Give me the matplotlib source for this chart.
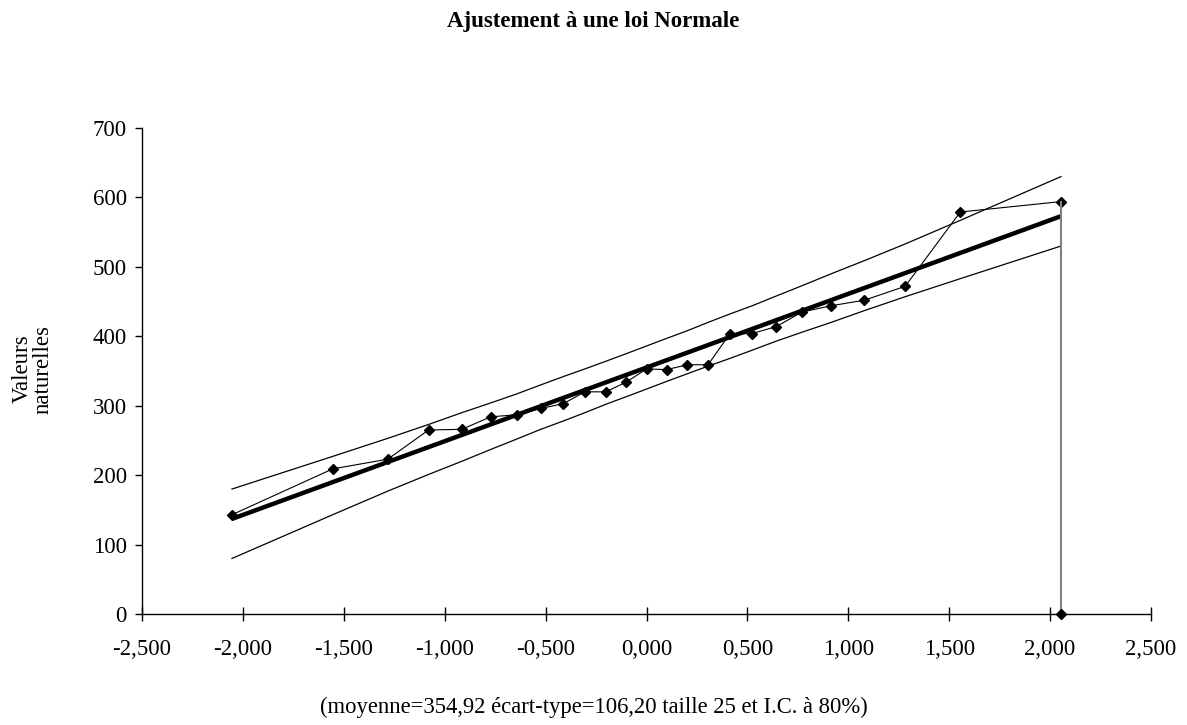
import numpy as np
import matplotlib
matplotlib.use('Agg')
import matplotlib.pyplot as plt
from matplotlib.ticker import FuncFormatter

## normal quantiles (x) and sorted sample values (y)
quantiles = [-2.054, -1.555, -1.282, -1.080, -0.915, -0.772, -0.643, -0.524, -0.412,
             -0.305, -0.202, -0.100, 0.000, 0.100, 0.202, 0.305, 0.412, 0.524,
             0.643, 0.772, 0.915, 1.080, 1.282, 1.555, 2.054]
values = [143, 209, 223, 265, 266, 284, 287, 296, 303, 320, 320, 334, 353,
          352, 359, 359, 403, 404, 414, 435, 444, 452, 472, 579, 594]

## confidence band (80%)
upper = [180, 227, 253, 273, 290, 304, 317, 330, 342, 353, 364, 375, 386,
         397, 408, 420, 432, 444, 458, 473, 490, 509, 533, 567, 630]
lower = [80, 143, 177, 201, 220, 237, 252, 266, 278, 290, 302, 313, 324,
         335, 346, 357, 368, 380, 393, 406, 420, 437, 457, 483, 530]

## fitted line endpoints
fit_x = [-2.054, 2.054]
fit_y = [137, 573]

plt.rcParams['font.family'] = ['Liberation Serif', 'DejaVu Serif']

fig = plt.figure(figsize=(11.87, 7.25), dpi=100)
ax = fig.add_axes([142/1187, 111/725, 1009/1187, 486/725])

ax.plot(quantiles, upper, color='black', lw=0.9)
ax.plot(quantiles, lower, color='black', lw=0.9)
ax.plot(fit_x, fit_y, color='black', lw=3.2, solid_capstyle='butt')
ax.plot(quantiles, values, color='black', lw=0.8, marker='D', markersize=5.3)
# last point dropped to zero
ax.plot([quantiles[-1], quantiles[-1]], [values[-1], 0], color='#808080', lw=1.5)
ax.plot([quantiles[-1]], [0], color='black', marker='D', markersize=5.3, clip_on=False, zorder=5)

ax.set_xlim(-2.5, 2.5)
ax.set_ylim(0, 700)
ax.set_xticks(np.arange(-2.5, 2.51, 0.5))
ax.set_yticks(range(0, 701, 100))
ax.xaxis.set_major_formatter(FuncFormatter(lambda v, p: f"{v:.3f}".replace('.', ',')))

for s in ['top', 'right']:
    ax.spines[s].set_visible(False)
for s in ['left', 'bottom']:
    ax.spines[s].set_linewidth(1.0)
ax.tick_params(axis='x', direction='inout', length=10, width=1, labelsize=16.5, pad=13)
ax.tick_params(axis='y', direction='out', length=5, width=1, labelsize=16.5, pad=6)

fig.text(0.5, 1 - 21/725, 'Ajustement à une loi Normale', ha='center', va='center',
         fontsize=16.5, fontweight='bold')
fig.text(33/1187, 1 - 369/725, 'Valeurs\nnaturelles', ha='center', va='center',
         rotation=90, fontsize=16.5, multialignment='center', linespacing=1.0)
fig.text(0.5, 1 - 707/725, '(moyenne=354,92 écart-type=106,20 taille 25 et I.C. à 80%)',
         ha='center', va='center', fontsize=16.3)

fig.savefig('out.png', dpi=100)
